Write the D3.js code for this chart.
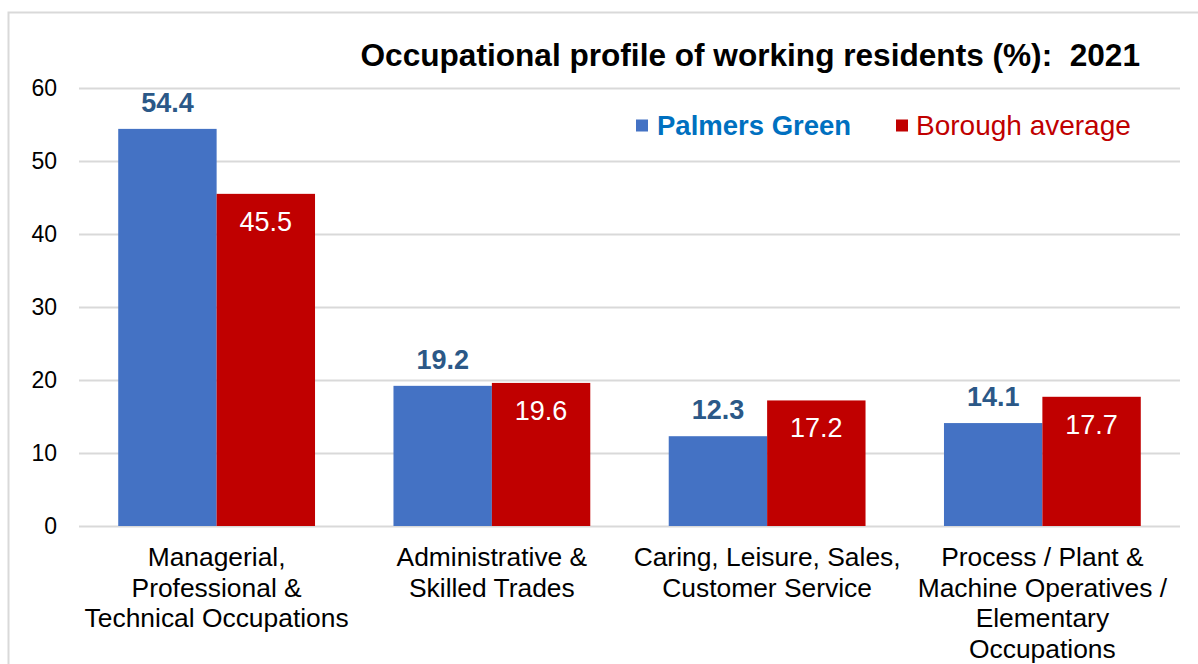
<!DOCTYPE html>
<html><head><meta charset="utf-8">
<script src="https://cdn.jsdelivr.net/npm/d3@7"></script>
<style>
html,body{margin:0;padding:0;background:#fff;}
svg{display:block;font-family:"Liberation Sans",Arial,sans-serif;}
text{white-space:pre;}
</style></head>
<body><svg id="c" width="1198" height="664"></svg>
<script>
const categories = [
  ["Managerial,","Professional &","Technical Occupations"],
  ["Administrative &","Skilled Trades"],
  ["Caring, Leisure, Sales,","Customer Service"],
  ["Process / Plant &","Machine Operatives /","Elementary","Occupations"]
];
const seriesNames = ["Palmers Green","Borough average"];
const palmersGreen = [54.4, 19.2, 12.3, 14.1];
const boroughAverage = [45.5, 19.6, 17.2, 17.7];
const yTicks = [0,10,20,30,40,50,60];
const titleText = "Occupational profile of working residents (%):  2021";

const svg = d3.select("#c");
const m = {l:79, t:88};
const plotW = 1180 - m.l, plotH = 526 - m.t;

// outer border
svg.append("rect").attr("x",8.5).attr("y",12.5).attr("width",1200).attr("height",700)
  .attr("fill","none").attr("stroke","#d9d9d9").attr("stroke-width",2);

const g = svg.append("g").attr("transform",`translate(${m.l},${m.t})`);
const x = d3.scaleBand().domain(d3.range(categories.length)).range([0,plotW]).paddingInner(0.285).paddingOuter(0.1425);
const x1 = d3.scaleBand().domain([0,1]).range([0,x.bandwidth()]);
const y = d3.scaleLinear().domain([0,60]).range([plotH,0]);

// gridlines + y axis
const yAxis = d3.axisLeft(y).tickValues(yTicks).tickSize(-plotW).tickPadding(22).tickFormat(d3.format("d"));
const ya = g.append("g").call(yAxis);
ya.select(".domain").remove();
ya.selectAll(".tick line").attr("stroke","#d9d9d9").attr("stroke-width",2);
ya.selectAll(".tick text").attr("fill","#000").style("font-size","23px").style("font-family","Liberation Sans, Arial, sans-serif");

const colors = ["#4472C4","#C00000"];
const data = [palmersGreen, boroughAverage];
data.forEach((vals,si)=>{
  g.selectAll(".bar"+si).data(vals).enter().append("rect")
    .attr("x",(d,i)=>x(i)+x1(si))
    .attr("y",d=>y(d))
    .attr("width",x1.bandwidth())
    .attr("height",d=>plotH-y(d))
    .attr("fill",colors[si]);
});
// value labels
g.selectAll(".lb0").data(palmersGreen).enter().append("text")
  .attr("x",(d,i)=>x(i)+x1(0)+x1.bandwidth()/2)
  .attr("y",d=>y(d)-17)
  .attr("text-anchor","middle").attr("fill","#2B5887").attr("font-weight","bold")
  .style("font-size","27px").text(d=>d.toFixed(1));
g.selectAll(".lb1").data(boroughAverage).enter().append("text")
  .attr("x",(d,i)=>x(i)+x1(1)+x1.bandwidth()/2)
  .attr("y",d=>y(d)+37)
  .attr("text-anchor","middle").attr("fill","#fff")
  .style("font-size","27px").text(d=>d.toFixed(1));

// category labels
const xa = g.append("g").attr("transform",`translate(0,${plotH})`);
categories.forEach((lines,i)=>{
  const cx = x(i)+x.bandwidth()/2;
  const t = xa.append("text").attr("x",cx).attr("y",40)
    .attr("text-anchor","middle").attr("fill","#000").style("font-size","26.4px");
  lines.forEach((ln,j)=>t.append("tspan").attr("x",cx).attr("dy",j===0?0:30.5).text(ln));
});

// title
svg.append("text").attr("x",1140).attr("y",66).attr("text-anchor","end")
  .attr("font-weight","bold").attr("fill","#000").style("font-size","31.6px").text(titleText);

// legend
const leg = svg.append("g");
leg.append("rect").attr("x",636).attr("y",119.5).attr("width",12).attr("height",12).attr("fill",colors[0]);
leg.append("text").attr("x",657).attr("y",135).attr("fill","#0070C0").attr("font-weight","bold")
  .style("font-size","27.5px").text(seriesNames[0]);
leg.append("rect").attr("x",896).attr("y",119.5).attr("width",12).attr("height",12).attr("fill",colors[1]);
leg.append("text").attr("x",916).attr("y",135).attr("fill","#C00000")
  .style("font-size","28px").text(seriesNames[1]);
</script></body></html>
